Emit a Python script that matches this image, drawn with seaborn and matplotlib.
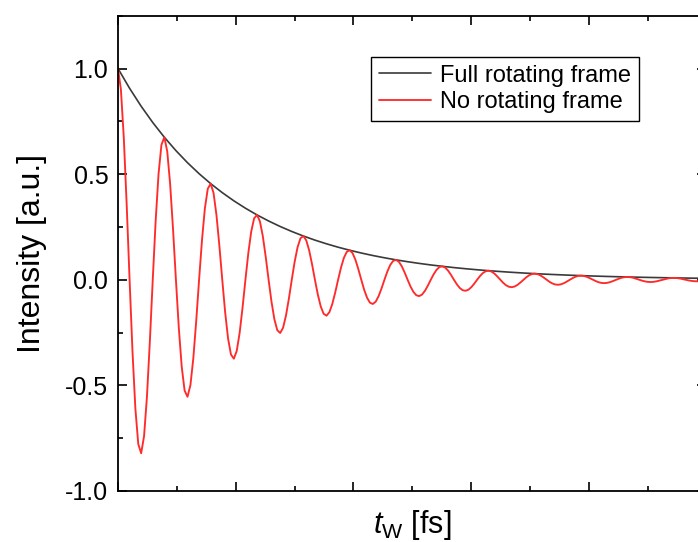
import numpy as np
import pandas as pd
import matplotlib
matplotlib.use("Agg")
import matplotlib.pyplot as plt
from matplotlib.ticker import MultipleLocator, NullFormatter
import seaborn as sns

# Waiting time grid (fs) for the two traces
t_red = np.arange(204) * 1.25
t_env = np.arange(0, 256, 5)

# Signal with the full rotating frame: pure decay envelope
full_frame = [
    1.0000, 0.9063, 0.8213, 0.7443, 0.6746, 0.6113, 0.5540, 0.5021,
    0.4550, 0.4124, 0.3737, 0.3387, 0.3069, 0.2782, 0.2521, 0.2285,
    0.2071, 0.1876, 0.1701, 0.1541, 0.1397, 0.1266, 0.1147, 0.1040,
    0.0942, 0.0854, 0.0774, 0.0701, 0.0636, 0.0576, 0.0522, 0.0473,
    0.0429, 0.0389, 0.0352, 0.0319, 0.0289, 0.0262, 0.0238, 0.0215,
    0.0195, 0.0177, 0.0160, 0.0145, 0.0132, 0.0119, 0.0108, 0.0098,
    0.0089, 0.0080, 0.0073, 0.0066,
]

# Signal without rotating frame: oscillating under the same envelope
no_frame = [
    1.0000, 0.9014, 0.6732, 0.3554, 0.0000, -0.3384, -0.6101, -0.7777,
    -0.8213, -0.7403, -0.5529, -0.2919, 0.0000, 0.2779, 0.5010, 0.6387,
    0.6746, 0.6081, 0.4541, 0.2398, 0.0000, -0.2283, -0.4115, -0.5246,
    -0.5540, -0.4994, -0.3729, -0.1969, 0.0000, 0.1875, 0.3380, 0.4309,
    0.4550, 0.4102, 0.3063, 0.1617, 0.0000, -0.1540, -0.2776, -0.3539,
    -0.3737, -0.3369, -0.2516, -0.1328, 0.0000, 0.1265, 0.2280, 0.2906,
    0.3069, 0.2767, 0.2066, 0.1091, 0.0000, -0.1039, -0.1873, -0.2387,
    -0.2521, -0.2272, -0.1697, -0.0896, 0.0000, 0.0853, 0.1538, 0.1961,
    0.2071, 0.1866, 0.1394, 0.0736, 0.0000, -0.0701, -0.1263, -0.1610,
    -0.1701, -0.1533, -0.1145, -0.0604, 0.0000, 0.0575, 0.1037, 0.1323,
    0.1397, 0.1259, 0.0940, 0.0496, 0.0000, -0.0473, -0.0852, -0.1086,
    -0.1147, -0.1034, -0.0772, -0.0408, 0.0000, 0.0388, 0.0700, 0.0892,
    0.0942, 0.0849, 0.0634, 0.0335, 0.0000, -0.0319, -0.0575, -0.0733,
    -0.0774, -0.0698, -0.0521, -0.0275, 0.0000, 0.0262, 0.0472, 0.0602,
    0.0636, 0.0573, 0.0428, 0.0226, 0.0000, -0.0215, -0.0388, -0.0494,
    -0.0522, -0.0471, -0.0351, -0.0186, 0.0000, 0.0177, 0.0318, 0.0406,
    0.0429, 0.0386, 0.0289, 0.0152, 0.0000, -0.0145, -0.0262, -0.0333,
    -0.0352, -0.0317, -0.0237, -0.0125, 0.0000, 0.0119, 0.0215, 0.0274,
    0.0289, 0.0261, 0.0195, 0.0103, 0.0000, -0.0098, -0.0176, -0.0225,
    -0.0238, -0.0214, -0.0160, -0.0084, 0.0000, 0.0080, 0.0145, 0.0185,
    0.0195, 0.0176, 0.0131, 0.0069, 0.0000, -0.0066, -0.0119, -0.0152,
    -0.0160, -0.0144, -0.0108, -0.0057, 0.0000, 0.0054, 0.0098, 0.0125,
    0.0132, 0.0119, 0.0089, 0.0047, 0.0000, -0.0045, -0.0080, -0.0102,
    -0.0108, -0.0097, -0.0073, -0.0038, 0.0000, 0.0037, 0.0066, 0.0084,
    0.0089, 0.0080, 0.0060, 0.0032, 0.0000, -0.0030, -0.0054, -0.0069,
    -0.0073, -0.0066, -0.0049, -0.0026,
]

labels = ["Full rotating frame", "No rotating frame"]
y_ticks = [-1.0, -0.5, 0.0, 0.5, 1.0]

sns.set_theme(style="ticks")
plt.rcParams["font.family"] = ["Liberation Sans", "DejaVu Sans"]
plt.rcParams["mathtext.fontset"] = "custom"
plt.rcParams["mathtext.rm"] = "Liberation Sans"
plt.rcParams["mathtext.it"] = "Liberation Sans:italic"
for key in ("text.color", "axes.labelcolor", "xtick.color", "ytick.color",
            "axes.edgecolor"):
    plt.rcParams[key] = "black"

df_env = pd.DataFrame({"t": t_env, "I": full_frame})
df_red = pd.DataFrame({"t": t_red, "I": no_frame})

fig = plt.figure(figsize=(6.98, 5.42), dpi=100)
ax = fig.add_axes([0.16905, 0.0941, 0.84312, 0.87694])

sns.lineplot(data=df_env, x="t", y="I", ax=ax, color="#3a3a3a", lw=1.2,
             label=labels[0])
sns.lineplot(data=df_red, x="t", y="I", ax=ax, color="#ff2b2b", lw=1.35,
             label=labels[1])

tick_step = 50.8
ax.set_xlim(0, 5 * tick_step)
ax.set_ylim(-1.0, 1.25)
ax.xaxis.set_major_locator(MultipleLocator(tick_step))
ax.xaxis.set_minor_locator(MultipleLocator(tick_step / 2))
ax.xaxis.set_major_formatter(NullFormatter())
ax.set_yticks(y_ticks)
ax.set_yticklabels([f"{v:.1f}" for v in y_ticks])
ax.yaxis.set_minor_locator(MultipleLocator(0.25))

ax.tick_params(which="both", direction="in", top=True, right=True,
               width=1.2, color="black")
ax.tick_params(which="major", length=6.3)
ax.tick_params(which="minor", length=3.6)
ax.tick_params(axis="y", labelsize=18, pad=7)
for sp in ax.spines.values():
    sp.set_linewidth(1.3)
    sp.set_color("black")

ax.set_ylabel("Intensity [a.u.]", fontsize=23, labelpad=13)
ax.set_xlabel(r"$t_{\mathrm{W}}$ [fs]", fontsize=22, labelpad=9)

leg = ax.legend(loc="upper left", bbox_to_anchor=(371 / 698, 1 - 57 / 542),
                bbox_transform=fig.transFigure, fontsize=17, frameon=True,
                fancybox=False, framealpha=1, edgecolor="black",
                borderpad=0.32, labelspacing=0.2, handlelength=2.2,
                handletextpad=0.4, borderaxespad=0)
leg.get_frame().set_linewidth(1.0)

fig.savefig("out.png", dpi=100)
